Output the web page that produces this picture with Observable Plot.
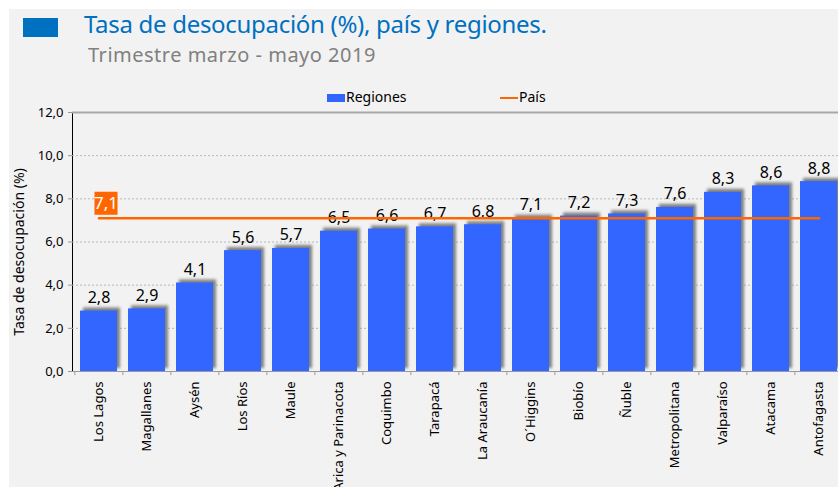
<!DOCTYPE html>
<html>
<head>
<meta charset="utf-8">
<script src="https://cdn.jsdelivr.net/npm/d3@7"></script>
<script src="https://cdn.jsdelivr.net/npm/@observablehq/plot@0.6"></script>
<style>
  html, body { margin: 0; padding: 0; width: 838px; height: 487px; overflow: hidden; background: #fff; font-family: "Noto Sans", sans-serif; }
  #bg { position: absolute; left: 9px; top: 9px; right: 0; bottom: 0; background: #f2f2f2; }
  #box { position: absolute; left: 23px; top: 18px; width: 35px; height: 19px; background: #0070c0; }
  #title { position: absolute; left: 84px; top: 11px; font-size: 24px; line-height: 1.1; color: #0070c0; white-space: nowrap; letter-spacing: -0.3px; }
  #subtitle { position: absolute; left: 88px; top: 44px; font-size: 20px; line-height: 1.1; color: #808080; white-space: nowrap; letter-spacing: 0.5px; }
  #ylab { position: absolute; left: 18px; top: 252px; transform: translate(-50%, -50%) rotate(-90deg); font-size: 14px; white-space: nowrap; color: #000; }
  .leg { position: absolute; top: 87px; font-size: 14px; color: #000; white-space: nowrap; }
  .sw { display: inline-block; vertical-align: middle; margin-right: 1px; }
  #chart { position: absolute; left: 0; top: 80px; }
  #chart g[aria-label^="y-axis"] { color: #999; }
  #chart g[aria-label^="y-axis"] text { fill: #000; }
  #chart g[aria-label^="x-axis"] text { fill: #000; }
</style>
</head>
<body>
<div id="bg"></div>
<div id="box"></div>
<div id="title">Tasa de desocupación (%), país y regiones.</div>
<div id="subtitle">Trimestre marzo - mayo 2019</div>
<div id="ylab">Tasa de desocupación (%)</div>
<div class="leg" style="left:327px"><span class="sw" style="width:18px;height:8px;background:#3366ff"></span>Regiones</div>
<div class="leg" style="left:500px"><span class="sw" style="width:18px;height:2px;background:#ff6600"></span>País</div>
<div id="chart"></div>
<script>
const regiones = ["Los Lagos","Magallanes","Aysén","Los Ríos","Maule","Arica y Parinacota","Coquimbo","Tarapacá","La Araucanía","O´Higgins","Biobío","Ñuble","Metropolitana","Valparaíso","Atacama","Antofagasta"];
const tasas = [2.8,2.9,4.1,5.6,5.7,6.5,6.6,6.7,6.8,7.1,7.2,7.3,7.6,8.3,8.6,8.8];
const pais = 7.1;
const yTicks = [0,2,4,6,8,10,12];

const fmt = v => v.toFixed(1).replace(".", ",");
const data = regiones.map((r, i) => ({region: r, value: tasas[i]}));
const paisData = regiones.map(r => ({region: r, value: pais}));

const xRange = [72, 845];
const step = (xRange[1] - xRange[0]) / regiones.length;

const plot = Plot.plot({
  width: 838,
  height: 407,
  marginTop: 32,
  marginBottom: 116,
  marginLeft: 72,
  marginRight: 0,
  style: {background: "transparent", fontFamily: "Noto Sans, sans-serif", fontSize: "13px", color: "#000"},
  x: {domain: regiones, range: xRange, paddingInner: 0.23, paddingOuter: 0.115, tickRotate: -90, tickSize: 0, tickPadding: 10, label: null},
  y: {domain: [0, 12], ticks: yTicks, tickFormat: fmt, tickSize: 4, tickPadding: 5, label: null, line: true},
  marks: [
    Plot.ruleY(yTicks.filter(t => t > 0 && t < 12), {stroke: "#b8b8b8", strokeDasharray: "2,2"}),
    Plot.ruleY([12], {stroke: "#a8a8a8", strokeWidth: 2}),
    Plot.barY(data, {x: "region", y: "value", fill: "#7f7f7f", dx: 3, dy: -3}),
    Plot.barY(data, {x: "region", y: "value", fill: "#3366ff"}),
    Plot.ruleY([0], {stroke: "#999"}),
    Plot.ruleX(regiones, {x: d => d, y1: 0, y2: -0.19, dx: -step / 2, stroke: "#999"}),
    Plot.ruleX(regiones.slice(-1), {x: d => d, y1: 0, y2: -0.19, dx: step / 2, stroke: "#999"}),
    Plot.text(data, {x: "region", y: "value", text: d => fmt(d.value), lineAnchor: "bottom", dy: -8, fontSize: 16, fill: "#000"}),
    Plot.lineY(paisData, {x: "region", y: "value", stroke: "#ff6600", strokeWidth: 2.5}),
    Plot.dot([pais], {x: () => regiones[0], y: d => d, symbol: "square", r: 13, fill: "#ff6600", dx: 7, dy: -15}),
    Plot.text([pais], {x: () => regiones[0], y: d => d, text: d => fmt(d), dx: 7, dy: -15, fill: "#fff", fontSize: 17})
  ]
});
document.getElementById("chart").appendChild(plot);
d3.select(plot).selectAll("g").filter(function() { return this.getAttribute("fill") === "#7f7f7f"; }).style("filter", "blur(1.5px)");
</script>
</body>
</html>
